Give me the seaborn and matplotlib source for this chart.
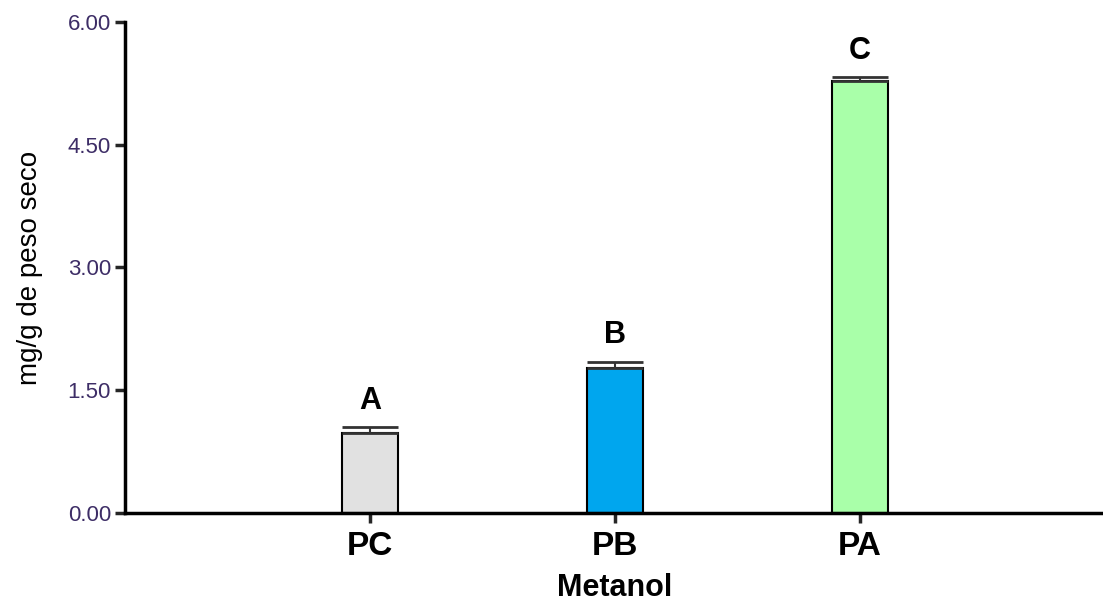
import matplotlib
matplotlib.use("Agg")
import matplotlib.pyplot as plt
import numpy as np
import pandas as pd
import seaborn as sns

CATEGORIES = ["PC", "PB", "PA"]
MEANS = [0.98, 1.77, 5.28]
ERRORS = [0.07, 0.08, 0.05]
LETTERS = ["A", "B", "C"]
COLORS = ["#E1E1E1", "#00A6EE", "#A9FFA9"]
Y_TICKS = [0.0, 1.5, 3.0, 4.5, 6.0]

sns.set_style("white")
plt.rcParams["font.family"] = ["Liberation Sans", "DejaVu Sans"]
plt.rcParams["text.color"] = "black"
plt.rcParams["axes.labelcolor"] = "black"

df = pd.DataFrame({"grupo": CATEGORIES, "valor": MEANS})

fig = plt.figure(figsize=(11.03, 6.02), dpi=100)
ax = fig.add_axes([0.1133, 0.148, 0.8885, 0.8155])

sns.barplot(
    data=df, x="grupo", y="valor", hue="grupo", palette=COLORS, saturation=1,
    width=0.23, edgecolor="black", linewidth=1.5, legend=False, ax=ax,
)
pos = np.arange(len(CATEGORIES))
ax.errorbar(
    pos, MEANS, yerr=[np.zeros(len(ERRORS)), ERRORS], fmt="none",
    ecolor="#333333", elinewidth=1.5, capsize=20, capthick=2, zorder=1,
)
for x, m, e, letter in zip(pos, MEANS, ERRORS, LETTERS):
    ax.text(x, m + e + 0.32, letter, ha="center", va="center",
            fontsize=22, fontweight="bold", color="black")

ax.set_xlim(-1.0, 3.0)
ax.set_ylim(0, 6)
ax.set_yticks(Y_TICKS)
ax.set_yticklabels([f"{t:.2f}" for t in Y_TICKS], fontsize=16, color="#3d2d66")
ax.set_xticks(pos)
ax.set_xticklabels(CATEGORIES, fontsize=24, fontweight="bold", color="black")
ax.set_xlabel("Metanol", fontsize=22, fontweight="bold", va="center")
ax.xaxis.set_label_coords(0.5, -0.153)
ax.set_ylabel("mg/g de peso seco", fontsize=20, labelpad=18)

for side in ["top", "right"]:
    ax.spines[side].set_visible(False)
for side in ["left", "bottom"]:
    ax.spines[side].set_linewidth(2.5)
    ax.spines[side].set_color("black")
ax.tick_params(axis="both", direction="out", length=7, width=2.5,
               left=True, bottom=True, pad=3)
ax.tick_params(axis="x", pad=6)

fig.savefig("out.png", dpi=100)
